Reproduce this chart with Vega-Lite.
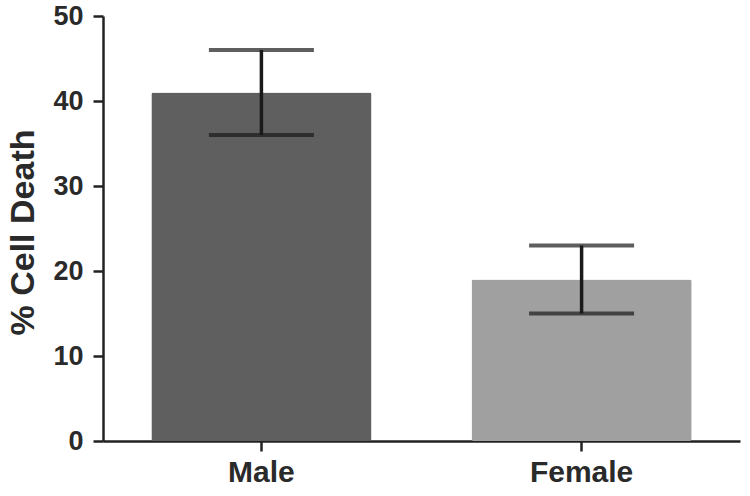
{
  "$schema": "https://vega.github.io/schema/vega-lite/v6.json",
  "autosize": "none",
  "width": 637,
  "height": 425,
  "padding": {"left": 103, "top": 16, "right": 10, "bottom": 55},
  "background": "white",
  "config": {
    "view": {"stroke": null},
    "font": "Liberation Sans",
    "axis": {
      "domainColor": "#222222",
      "domainWidth": 2.5,
      "tickColor": "#222222",
      "tickWidth": 2.5,
      "tickSize": 10,
      "labelFont": "Liberation Sans",
      "labelFontWeight": "bold",
      "labelColor": "#2a2a2a",
      "titleFont": "Liberation Sans",
      "titleFontWeight": "bold",
      "titleColor": "#2a2a2a",
      "grid": false
    }
  },
  "data": {
    "values": [
      {"sex": "Male", "mean": 41, "lo": 36, "hi": 46},
      {"sex": "Female", "mean": 19, "lo": 15, "hi": 23}
    ]
  },
  "encoding": {
    "x": {
      "field": "sex",
      "type": "nominal",
      "sort": ["Male", "Female"],
      "scale": {"paddingInner": 0.3125, "paddingOuter": 0.151},
      "axis": {"title": null, "labelAngle": 0, "labelFontSize": 30, "labelPadding": 6}
    }
  },
  "layer": [
    {
      "mark": {"type": "bar", "cornerRadius": 2},
      "encoding": {
        "y": {
          "field": "mean",
          "type": "quantitative",
          "scale": {"domain": [0, 50], "nice": false},
          "axis": {
            "title": "% Cell Death",
            "values": [0, 10, 20, 30, 40, 50],
            "labelFontSize": 27,
            "labelPadding": 10,
            "titleFontSize": 34,
            "titleX": -63,
            "titleY": 216
          }
        },
        "color": {
          "field": "sex",
          "type": "nominal",
          "scale": {"domain": ["Male", "Female"], "range": ["#5f5f5f", "#a0a0a0"]},
          "legend": null
        }
      }
    },
    {
      "mark": {"type": "rule", "color": "#1a1a1a", "strokeWidth": 3.5},
      "encoding": {
        "y": {"field": "lo", "type": "quantitative"},
        "y2": {"field": "hi"}
      }
    },
    {
      "mark": {"type": "tick", "color": "#1a1a1a", "thickness": 4, "size": 105},
      "encoding": {
        "y": {"field": "lo", "type": "quantitative"}
      }
    },
    {
      "mark": {"type": "tick", "color": "#1a1a1a", "thickness": 4, "size": 105},
      "encoding": {
        "y": {"field": "hi", "type": "quantitative"}
      }
    }
  ]
}
